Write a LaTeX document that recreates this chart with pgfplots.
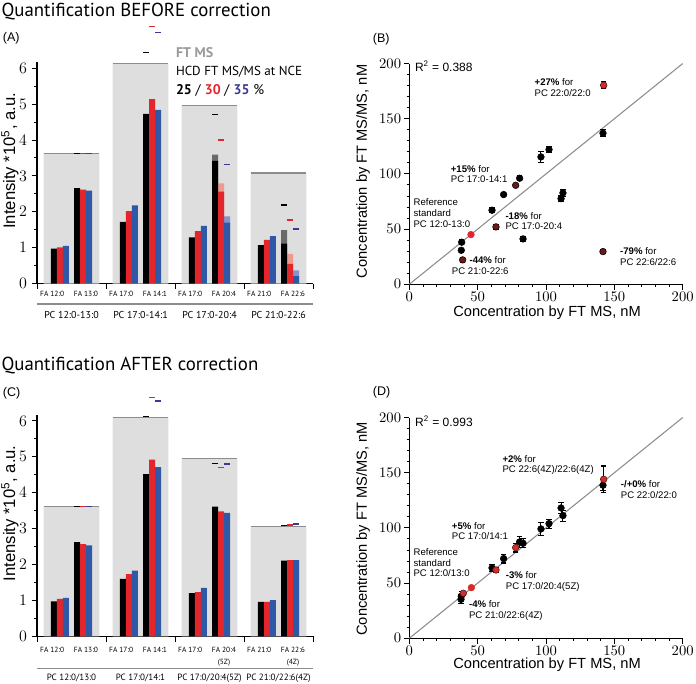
\documentclass[border=0pt]{standalone}
\usepackage{fontspec}
\setmainfont{Liberation Sans}
\newfontfamily\myr{PT Sans}
\usepackage{pgfplots}
\pgfplotsset{compat=1.18}

\definecolor{cred}{HTML}{E3262B}
\definecolor{cblue}{HTML}{2F58A6}
\definecolor{cnavy}{HTML}{3A3A90}
\definecolor{bggrey}{HTML}{DEDEDE}
\definecolor{lngrey}{HTML}{8C8C8C}
\definecolor{lred}{HTML}{EE9A8E}
\definecolor{lblue}{HTML}{8494CC}
\definecolor{lblack}{HTML}{6A6A6A}
\definecolor{maroon}{HTML}{721515}
\definecolor{sred}{HTML}{D92A25}

\pgfplotsset{
  barpanel/.style={
    scale only axis, width=207pt, height=166.1pt,
    xmin=0.5, xmax=4.5, ymin=0, ymax=6.17,
    axis lines=left, axis line style={-, line width=0.8pt},
    clip=false,
    xtick={0.5,1.5,...,4.5}, xticklabels={},
    ytick={0,...,6}, minor ytick={0.5,1.5,...,5.5},
    tick align=outside, major tick length=4pt, minor tick length=2pt,
    tick style={line width=0.7pt, black},
    yticklabel style={font=\fontsize{12}{12}\selectfont},
  },
  scatpanel/.style={
    scale only axis, width=205pt, height=165.5pt,
    xmin=0, xmax=200, ymin=0, ymax=200,
    axis lines=left, axis line style={-, line width=0.8pt},
    clip=false,
    xtick={0,50,...,200}, ytick={0,50,...,200}, minor tick num=4,
    tick align=outside, major tick length=4pt, minor tick length=2pt,
    tick style={line width=0.7pt, black},
    ticklabel style={font=\fontsize{10.5}{11}\selectfont, inner sep=2pt},
  },
  bgbar/.style={ybar, bar width=0.81, bar shift=0pt, fill=bggrey, draw=none},
  fabar/.style={ybar, bar width=0.087, bar shift=0pt, fill=#1, draw=none},
  dash/.style={only marks, mark=-, mark size=2.2pt, mark options={line width=1pt, draw=#1}},
  errpts/.style={only marks, mark=*, mark size=2.5pt,
    error bars/y dir=both, error bars/y explicit,
    error bars/error bar style={line width=0.8pt, black},
    error bars/error mark options={rotate=90, mark size=2pt, line width=0.8pt, black}},
}
\tikzset{
  fal/.style={font=\myr\fontsize{5.6}{8.5}\selectfont, align=center, inner sep=0pt},
  ann/.style={font=\fontsize{7.2}{8}\selectfont, align=left, inner sep=0pt, anchor=west},
}

\begin{document}
\begin{tikzpicture}
\path[use as bounding box] (0,0) rectangle (522pt,513pt);

% titles and panel letters
\node[anchor=base west, inner sep=0, font=\myr\fontsize{14.1}{15}\selectfont] at (1pt,500.25pt) {Quantification BEFORE correction};
\node[anchor=base west, inner sep=0, font=\myr\fontsize{14.1}{15}\selectfont] at (1pt,235pt) {Quantification AFTER correction};
\node[anchor=base west, inner sep=0, font=\fontsize{9.4}{10}\selectfont] at (2pt,481.7pt) {(A)};
\node[anchor=base west, inner sep=0, font=\fontsize{9.4}{10}\selectfont] at (2pt,215.5pt) {(C)};
\node[anchor=base west, inner sep=0, font=\fontsize{9.4}{10}\selectfont] at (279.5pt,481.3pt) {(B)};
\node[anchor=base west, inner sep=0, font=\fontsize{9.4}{10}\selectfont] at (279.5pt,216pt) {(D)};

% axis labels
\node[rotate=90, font=\fontsize{12.5}{13}\selectfont] at (7.5pt,392.4pt) {Intensity *10\textsuperscript{5}, a.u.};
\node[rotate=90, font=\fontsize{12.5}{13}\selectfont] at (7.5pt,128pt) {Intensity *10\textsuperscript{5}, a.u.};
\node[rotate=90, font=\fontsize{11}{11}\selectfont] at (272.3pt,384.4pt) {Concentration by FT MS/MS, nM};
\node[rotate=90, font=\fontsize{11}{11}\selectfont] at (272.3pt,116.3pt) {Concentration by FT MS/MS, nM};
\node[font=\fontsize{11}{11}\selectfont] at (410.3pt,278.3pt) {Concentration by FT MS, nM};
\node[font=\fontsize{11}{11}\selectfont] at (410.3pt,14.2pt) {Concentration by FT MS, nM};

% legend text of panel A
\node[anchor=base west, inner sep=0, font=\myr\bfseries\fontsize{10.5}{11}\selectfont, text=black!40] at (131.8pt,470pt) {FT MS};
\node[anchor=base west, inner sep=0, font=\myr\fontsize{9.8}{11}\selectfont] at (131.8pt,456pt) {HCD FT MS/MS at NCE};
\node[anchor=base west, inner sep=0, font=\myr\fontsize{10.5}{11}\selectfont] at (131.8pt,441.75pt) {\textbf{25} / \textbf{\textcolor{cred}{30}} / \textbf{\textcolor{cnavy}{35}} \%};

% ---------------- panel A ----------------
\begin{axis}[barpanel, at={(27.75pt,300.3pt)}, anchor=south west]
\addplot[bgbar] coordinates {(1,3.63) (2,6.13) (3,4.96) (4,3.08)};
\addplot[lngrey, line width=1pt, unbounded coords=jump] coordinates {
  (0.595,3.63) (1.405,3.63) (1.5,nan)
  (1.595,6.13) (2.405,6.13) (2.5,nan)
  (2.595,4.96) (3.405,4.96) (3.5,nan)
  (3.595,3.08) (4.405,3.08)};
% lighter tops
\addplot[fabar=lblack] coordinates {(3.083,3.59) (4.083,1.49)};
\addplot[fabar=lred] coordinates {(3.17,2.79) (4.17,0.83)};
\addplot[fabar=lblue] coordinates {(3.257,1.87) (4.257,0.37)};
% NCE 25 / 30 / 35
\addplot[fabar=black] coordinates {(0.743,0.975) (1.083,2.66) (1.743,1.72) (2.083,4.73) (2.743,1.29) (3.083,3.42) (3.743,1.07) (4.083,1.11)};
\addplot[fabar=cred] coordinates {(0.83,1.01) (1.17,2.62) (1.83,2.02) (2.17,5.14) (2.83,1.46) (3.17,2.56) (3.83,1.22) (4.17,0.55)};
\addplot[fabar=cblue] coordinates {(0.917,1.05) (1.257,2.59) (1.917,2.18) (2.257,4.84) (2.917,1.61) (3.257,1.70) (3.917,1.32) (4.257,0.21)};
% expected levels
\addplot[dash=black] coordinates {(1.083,3.63) (2.083,6.44) (3.083,4.71) (4.083,2.19)};
\addplot[dash=cred] coordinates {(1.17,3.63) (2.17,7.16) (3.17,4.00) (4.17,1.77)};
\addplot[dash=cnavy] coordinates {(1.257,3.63) (2.257,6.99) (3.257,3.31) (4.257,1.52)};
% category labels
\node[fal, anchor=north, yshift=-5.5pt] at (axis cs:0.72,0) {FA 12:0};
\node[fal, anchor=north, yshift=-5.5pt] at (axis cs:1.21,0) {FA 13:0};
\node[fal, anchor=north, yshift=-5.5pt] at (axis cs:1.72,0) {FA 17:0};
\node[fal, anchor=north, yshift=-5.5pt] at (axis cs:2.21,0) {FA 14:1};
\node[fal, anchor=north, yshift=-5.5pt] at (axis cs:2.72,0) {FA 17:0};
\node[fal, anchor=north, yshift=-5.5pt] at (axis cs:3.21,0) {FA 20:4};
\node[fal, anchor=north, yshift=-5.5pt] at (axis cs:3.72,0) {FA 21:0};
\node[fal, anchor=north, yshift=-5.5pt] at (axis cs:4.21,0) {FA 22:6};
\draw[lngrey, line width=0.8pt] ([yshift=-15.3pt]axis cs:0.5,0) -- ([yshift=-15.3pt]axis cs:4.5,0);
\node[font=\myr\fontsize{7.5}{8}\selectfont, yshift=-23.5pt] at (axis cs:1,0) {PC 12:0-13:0};
\node[font=\myr\fontsize{7.5}{8}\selectfont, yshift=-23.5pt] at (axis cs:2,0) {PC 17:0-14:1};
\node[font=\myr\fontsize{7.5}{8}\selectfont, yshift=-23.5pt] at (axis cs:3,0) {PC 17:0-20:4};
\node[font=\myr\fontsize{7.5}{8}\selectfont, yshift=-23.5pt] at (axis cs:4,0) {PC 21:0-22:6};
\end{axis}

% ---------------- panel C ----------------
\begin{axis}[barpanel, at={(27.75pt,35.8pt)}, anchor=south west]
\addplot[bgbar] coordinates {(1,3.62) (2,6.10) (3,4.95) (4,3.05)};
\addplot[lngrey, line width=1pt, unbounded coords=jump] coordinates {
  (0.595,3.62) (1.405,3.62) (1.5,nan)
  (1.595,6.10) (2.405,6.10) (2.5,nan)
  (2.595,4.95) (3.405,4.95) (3.5,nan)
  (3.595,3.05) (4.405,3.05)};
\addplot[fabar=black] coordinates {(0.743,0.97) (1.083,2.62) (1.743,1.60) (2.083,4.52) (2.743,1.20) (3.083,3.61) (3.743,0.96) (4.083,2.11)};
\addplot[fabar=cred] coordinates {(0.83,1.04) (1.17,2.57) (1.83,1.73) (2.17,4.92) (2.83,1.23) (3.17,3.48) (3.83,0.96) (4.17,2.12)};
\addplot[fabar=cblue] coordinates {(0.917,1.07) (1.257,2.53) (1.917,1.83) (2.257,4.71) (2.917,1.35) (3.257,3.44) (3.917,1.01) (4.257,2.12)};
\addplot[dash=black] coordinates {(1.083,3.62) (2.083,6.12) (3.083,4.81) (4.083,3.08)};
\addplot[dash=cred] coordinates {(1.17,3.62) (2.17,6.66) (3.17,4.71) (4.17,3.10)};
\addplot[dash=cnavy] coordinates {(1.257,3.62) (2.257,6.55) (3.257,4.80) (4.257,3.13)};
\node[fal, anchor=north, yshift=-8.2pt] at (axis cs:0.72,0) {FA 12:0};
\node[fal, anchor=north, yshift=-8.2pt] at (axis cs:1.21,0) {FA 13:0};
\node[fal, anchor=north, yshift=-8.2pt] at (axis cs:1.72,0) {FA 17:0};
\node[fal, anchor=north, yshift=-8.2pt] at (axis cs:2.21,0) {FA 14:1};
\node[fal, anchor=north, yshift=-8.2pt] at (axis cs:2.72,0) {FA 17:0};
\node[fal, anchor=north, yshift=-8.2pt] at (axis cs:3.21,0) {FA 20:4\\(5Z)};
\node[fal, anchor=north, yshift=-8.2pt] at (axis cs:3.72,0) {FA 21:0};
\node[fal, anchor=north, yshift=-8.2pt] at (axis cs:4.21,0) {FA 22:6\\(4Z)};
\draw[lngrey, line width=0.8pt] ([yshift=-24.5pt]axis cs:0.5,0) -- ([yshift=-24.5pt]axis cs:4.5,0);
\node[font=\myr\fontsize{6.8}{7}\selectfont, yshift=-31.3pt] at (axis cs:1,0) {PC 12:0/13:0};
\node[font=\myr\fontsize{6.8}{7}\selectfont, yshift=-31.3pt] at (axis cs:2,0) {PC 17:0/14:1};
\node[font=\myr\fontsize{6.8}{7}\selectfont, yshift=-31.3pt] at (axis cs:3,0) {PC 17:0/20:4(5Z)};
\node[font=\myr\fontsize{6.8}{7}\selectfont, yshift=-31.3pt] at (axis cs:4,0) {PC 21:0/22:6(4Z)};
\end{axis}

% ---------------- panel B ----------------
\begin{axis}[scatpanel, at={(307pt,299.8pt)}, anchor=south west]
\addplot[lngrey, line width=0.8pt] coordinates {(0,0) (200,200)};
\addplot[errpts, mark options={fill=black, draw=black}] coordinates {
  (38.3,38.1) +- (0,2) (38.0,30.8) +- (0,2) (60.5,67.1) +- (0,2)
  (69.0,81.3) +- (0,2) (80.7,96.1) +- (0,2) (83.2,41.1) +- (0,2)
  (96.3,115.4) +- (0,5) (102.2,122.1) +- (0,3) (111.0,77.6) +- (0,3)
  (112.4,82.8) +- (0,3) (141.7,136.9) +- (0,3)};
\addplot[errpts, mark options={fill=maroon, draw=black}] coordinates {
  (39.0,22.1) +- (0,2) (63.4,52.0) +- (0,2) (77.8,89.7) +- (0,2) (141.7,29.6) +- (0,2)};
\addplot[errpts, mark options={fill=cred, draw=black!70!cred}] coordinates {(142.2,180.4) +- (0,3)};
\addplot[only marks, mark=*, mark size=2.5pt, mark options={fill=cred, draw=cred}] coordinates {(45.1,45.0)};
\node[anchor=west, inner sep=0, font=\fontsize{9}{9}\selectfont] at (axis cs:4,197.9) {R\textsuperscript{2} = 0.388};
\node[ann] at (axis cs:91.5,178.3) {\textbf{+27\%} for\\PC 22:0/22:0};
\node[ann] at (axis cs:30.2,99.9) {\textbf{+15\%} for\\PC 17:0-14:1};
\node[ann] at (axis cs:2.9,64.5) {Reference\\standard\\PC 12:0-13:0};
\node[ann] at (axis cs:70.2,57.3) {\textbf{-18\%} for\\PC 17:0-20:4};
\node[ann] at (axis cs:43.9,21.5) {\textbf{-44\%} for};
\node[ann] at (axis cs:31.0,11.5) {PC 21:0-22:6};
\node[ann] at (axis cs:154.1,25.2) {\textbf{-79\%} for\\PC 22:6/22:6};
\end{axis}

% ---------------- panel D ----------------
\begin{axis}[scatpanel, at={(307pt,34.3pt)}, anchor=south west]
\addplot[lngrey, line width=0.8pt] coordinates {(0,0) (200,200)};
\addplot[errpts, mark options={fill=black, draw=black}] coordinates {
  (38.0,38.1) +- (0,4) (37.8,35.3) +- (0,4) (60.5,63.7) +- (0,3)
  (69.0,72.2) +- (0,4) (80.7,87.3) +- (0,5) (83.2,86.1) +- (0,4)
  (96.3,99.1) +- (0,6) (102.2,103.9) +- (0,4) (111.0,118.1) +- (0,5)
  (112.4,111.2) +- (0,5) (141.7,138.7) +- (0,5)};
\addplot[errpts, mark options={fill=sred, draw=black!60!sred}] coordinates {
  (39.5,40.8) +- (0,2) (63.4,61.9) +- (0,2) (77.8,82.2) +- (0,4) (142.2,144.1) +- (0,12)};
\addplot[only marks, mark=*, mark size=2.5pt, mark options={fill=sred, draw=sred}] coordinates {(45.4,45.9)};
\node[anchor=west, inner sep=0, font=\fontsize{9}{9}\selectfont] at (axis cs:4.1,196.4) {R\textsuperscript{2} = 0.993};
\node[ann] at (axis cs:68.0,157) {\textbf{+2\%} for\\PC 22:6(4Z)/22:6(4Z)};
\node[ann] at (axis cs:154.6,134.6) {\textbf{-/+0\%} for\\PC 22:0/22:0};
\node[ann] at (axis cs:31.0,97.3) {\textbf{+5\%} for\\PC 17:0/14:1};
\node[ann] at (axis cs:2.9,68.4) {Reference\\standard\\PC 12:0/13:0};
\node[ann] at (axis cs:70.5,51.5) {\textbf{-3\%} for\\PC 17:0/20:4(5Z)};
\node[ann] at (axis cs:43.5,24.9) {\textbf{-4\%} for\\PC 21:0/22:6(4Z)};
\end{axis}
\end{tikzpicture}
\end{document}
